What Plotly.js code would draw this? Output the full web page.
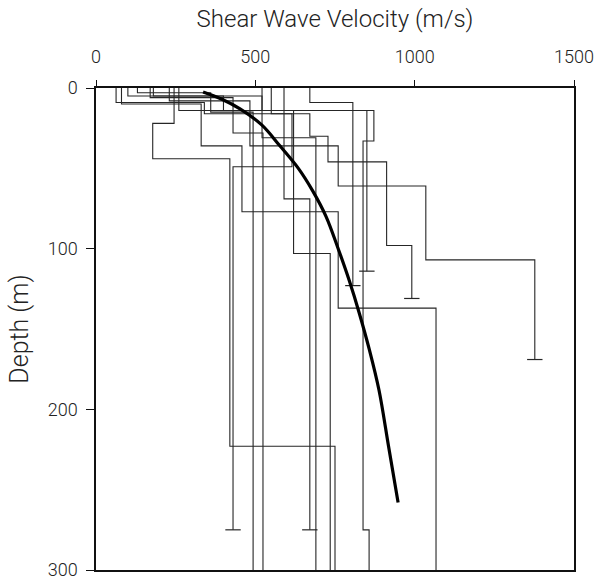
<!DOCTYPE html>
<html>
<head>
<meta charset="utf-8">
<script src="https://cdn.plot.ly/plotly-3.0.1.min.js"></script>
<style>
  html, body { margin: 0; padding: 0; background: #fff; }
  #chart { width: 595px; height: 581px; }
</style>
</head>
<body>
<div id="chart"></div>
<script>
// Step profiles: layer velocity (m/s) and layer-bottom depth (m)
const profA_v = [245, 178, 420, 750];        const profA_d = [22, 44, 223, 300];
const profB_v = [63, 340, 615, 430];         const profB_d = [9, 16, 49, 275];
const profC_v = [80, 330, 458, 760, 1067];   const profC_d = [10, 36, 77, 137, 300];
const profD_v = [130, 360, 493];             const profD_d = [3, 15, 300];
const profE_v = [170, 430, 524];             const profE_d = [6, 28, 300];
const profF_v = [260, 620, 735];             const profF_d = [14, 103, 300];
const profG_v = [590, 671];                  const profG_d = [69, 275];
const profH_v = [100, 521, 690];             const profH_d = [5, 31, 300];
const profI_v = [671, 806];                  const profI_d = [9, 123];
const profJ_v = [180, 400, 872, 838, 857];   const profJ_d = [5, 14, 33, 275, 300];
const profK_v = [521, 850];                  const profK_d = [14, 114];
const profL_v = [550, 671, 728, 912, 991];   const profL_d = [16, 30, 46, 98, 131];
const profM_v = [230, 483, 760, 1035, 1377]; const profM_d = [8, 36, 61, 107, 169];

// Average (fitted) curve
const avg_v = [336, 395, 452, 520, 577, 635, 680, 722, 760, 795, 826, 858, 888, 918, 948];
const avg_d = [2.5, 7, 13, 23, 36, 50, 64, 80, 100, 120, 140, 163, 188, 223, 258];

// Axis ticks
const xTicks = [0, 500, 1000, 1500];
const yTicks = [0, 100, 200, 300];

const profiles = [
  [profA_v, profA_d], [profB_v, profB_d], [profC_v, profC_d], [profD_v, profD_d],
  [profE_v, profE_d], [profF_v, profF_d], [profG_v, profG_d], [profH_v, profH_d],
  [profI_v, profI_d], [profJ_v, profJ_d], [profK_v, profK_d], [profL_v, profL_d],
  [profM_v, profM_d]
];

const ink = '#262626';
const traces = [];
profiles.forEach(([v, d]) => {
  const xs = [], ys = [];
  let top = 0;
  for (let i = 0; i < v.length; i++) {
    xs.push(v[i], v[i]);
    ys.push(top, d[i]);
    top = d[i];
  }
  traces.push({
    type: 'scatter', mode: 'lines', x: xs, y: ys,
    line: { color: ink, width: 1.1 },
    hoverinfo: 'skip', showlegend: false
  });
  const last = v.length - 1;
  if (d[last] < 300) {
    traces.push({
      type: 'scatter', mode: 'markers', x: [v[last]], y: [d[last]],
      marker: { symbol: 'line-ew-open', size: 11, color: ink, line: { color: ink, width: 1.2 } },
      hoverinfo: 'skip', showlegend: false
    });
  }
});

traces.push({
  type: 'scatter', mode: 'lines', x: avg_v, y: avg_d,
  line: { color: '#000', width: 3.2, shape: 'spline', smoothing: 1 },
  hoverinfo: 'skip', showlegend: false
});

const fontFam = 'Roboto, "Liberation Sans", sans-serif';
const txt = '#222';
const layout = {
  width: 595, height: 581,
  margin: { l: 96, r: 21, t: 88, b: 11 },
  paper_bgcolor: '#fff', plot_bgcolor: '#fff',
  font: { family: fontFam, color: txt, size: 18, weight: 300 },
  xaxis: {
    side: 'top', range: [0, 1500], tickvals: xTicks, ticktext: xTicks.map(String),
    ticks: 'outside', ticklen: 6, tickcolor: '#111', ticklabelstandoff: 10,
    ticklabeloverflow: 'allow',
    showline: true, linecolor: '#111', linewidth: 1.6, mirror: true,
    showgrid: false, zeroline: false,
    tickfont: { size: 18, family: fontFam, color: txt, weight: 300 },
    title: { text: 'Shear Wave Velocity (m/s)', standoff: 12,
             font: { size: 24, family: fontFam, color: txt, weight: 300 } }
  },
  yaxis: {
    range: [300, 0], tickvals: yTicks, ticktext: yTicks.map(String),
    ticks: 'outside', ticklen: 8, tickcolor: '#111', ticklabelstandoff: 5,
    ticklabeloverflow: 'allow',
    showline: true, linecolor: '#111', linewidth: 1.6, mirror: true,
    showgrid: false, zeroline: false,
    tickfont: { size: 18, family: fontFam, color: txt, weight: 300 },
    title: { text: 'Depth (m)', standoff: 12,
             font: { size: 25, family: fontFam, color: txt, weight: 300 } }
  }
};

Plotly.newPlot('chart', traces, layout, { staticPlot: true, displayModeBar: false });
</script>
</body>
</html>
